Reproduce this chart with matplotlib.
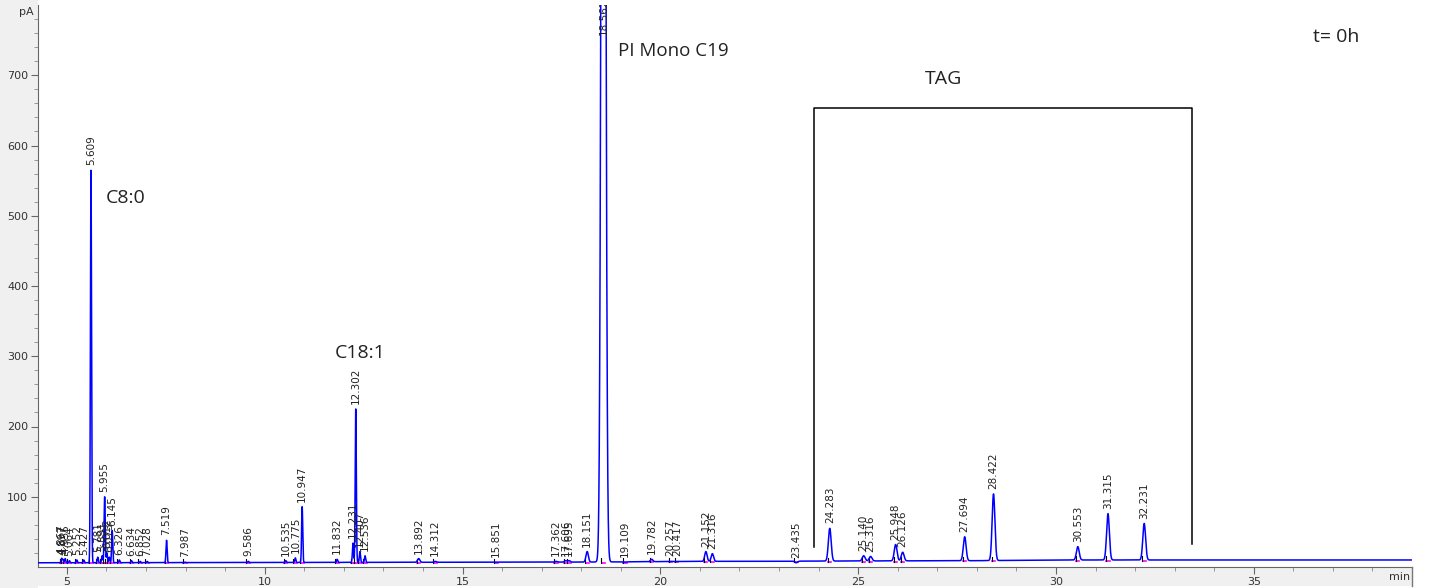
import numpy as np
import matplotlib.pyplot as plt
from matplotlib.patches import Rectangle

# Peak retention times (min) and apex heights (pA)
peak_times = [4.867, 4.897, 4.955, 5.064, 5.252, 5.427, 5.609, 5.781, 5.891,
              5.955, 6.012, 6.073, 6.145, 6.326, 6.634, 6.852, 7.028, 7.519,
              7.987, 9.586, 10.535, 10.775, 10.947, 11.832, 12.231, 12.302,
              12.407, 12.536, 13.892, 14.312, 15.851, 17.362, 17.606, 17.695,
              18.151, 18.562, 19.109, 19.782, 20.257, 20.417, 21.152, 21.316,
              23.435, 24.283, 25.140, 25.316, 25.948, 26.126, 27.694, 28.422,
              30.553, 31.315, 32.231]
peak_heights = [12, 10, 12, 9, 10, 10, 565, 14, 16,
                100, 20, 14, 52, 10, 9, 8, 8, 38,
                7, 8, 9, 13, 86, 11, 34, 225,
                22, 16, 12, 8, 7, 8, 9, 9,
                22, 2500, 7, 11, 8, 8, 22, 19,
                6, 55, 16, 15, 32, 21, 43, 104,
                29, 76, 62]

# Baseline drift (min, pA)
base_t = [4.3, 18.0, 21.0, 28.0, 30.0, 39.0]
base_v = [6, 7, 8, 9, 10, 10]

# Named components
names = ["C8:0", "C18:1", "PI Mono C19", "TAG", "t= 0h"]

t = np.linspace(4.27, 39.0, 30000)
base = np.interp(t, base_t, base_v)
signal = base.copy()
for rt, h in zip(peak_times, peak_heights):
    sigma = 0.014 if rt < 13 else (0.03 if rt < 22 else 0.035)
    if rt == 18.562:
        sigma = 0.045
    amp = h - np.interp(rt, base_t, base_v)
    signal += amp * np.exp(-0.5 * ((t - rt) / sigma) ** 2)

fig = plt.figure(figsize=(14.29, 5.88), dpi=100)
fig.patch.set_facecolor("white")
W, H = 1429, 588
# grey frame around the axes, like the instrument software
fig.patches.append(Rectangle((0, 0), 38 / W, 1, transform=fig.transFigure,
                             facecolor="#f0f0f0", edgecolor="none", zorder=-5))
fig.patches.append(Rectangle((0, 2 / H), 1412 / W, 19 / H, transform=fig.transFigure,
                             facecolor="#f0f0f0", edgecolor="none", zorder=-5))
fig.add_artist(plt.Line2D([1412 / W, 1412 / W], [2 / H, 21 / H], transform=fig.transFigure,
                          color="#777777", lw=1))

ax = fig.add_axes([38 / W, 21 / H, 1374 / W, 562 / H])
ax.plot(t, signal, color="#0000ff", lw=1.1, zorder=3)

# integration marks and retention time labels
for rt, h in zip(peak_times, peak_heights):
    b = np.interp(rt, base_t, base_v)
    ax.plot([rt - 0.04, rt + 0.04], [b - 1, b - 1], color="#ff00ff", lw=1.2, zorder=2)
    ax.plot([rt - 0.05, rt - 0.05], [b - 1, b + 5], color="black", lw=0.8, zorder=2)
    y = h + 7 if h < 800 else 757
    ax.text(rt, y, f"{rt:.3f}", rotation=90, ha="center", va="bottom",
            fontsize=7.5, color="#222222", clip_on=True, zorder=4)

# TAG bracket
ax.plot([23.89, 23.89, 33.43, 33.43], [29, 653, 653, 33], color="black", lw=1.1)

txt = dict(family="Open Sans", color="#222222")
ax.text(5.98, 525, names[0], fontsize=14, va="center", **txt)
ax.text(11.78, 304, names[1], fontsize=14, va="center", **txt)
ax.text(18.93, 735, names[2], fontsize=13.5, va="center", **txt)
ax.text(27.15, 694, names[3], fontsize=14, va="center", ha="center", **txt)
ax.text(36.5, 755, names[4], fontsize=14, va="center", **txt)

ax.set_xlim(4.27, 39.0)
ax.set_ylim(0, 800)
for s in ["top", "right"]:
    ax.spines[s].set_visible(False)
ax.spines["left"].set_color("#666666")
ax.spines["bottom"].set_color("#666666")

ax.set_yticks(range(100, 800, 100))
ax.set_yticks(range(20, 800, 20), minor=True)
ax.set_xticks(range(5, 40, 5))
ax.set_xticks(range(5, 39), minor=True)
ax.tick_params(axis="both", which="major", length=5, color="#666666",
               labelsize=8, labelcolor="#333333", pad=2)
ax.tick_params(axis="both", which="minor", length=3, color="#888888")
fig.text(34 / W, 1 - 12 / H, "pA", ha="right", va="center", fontsize=8, color="#333333")
fig.text(1410 / W, 11 / H, "min", ha="right", va="center", fontsize=8, color="#333333")

fig.savefig("out.png", dpi=100)
